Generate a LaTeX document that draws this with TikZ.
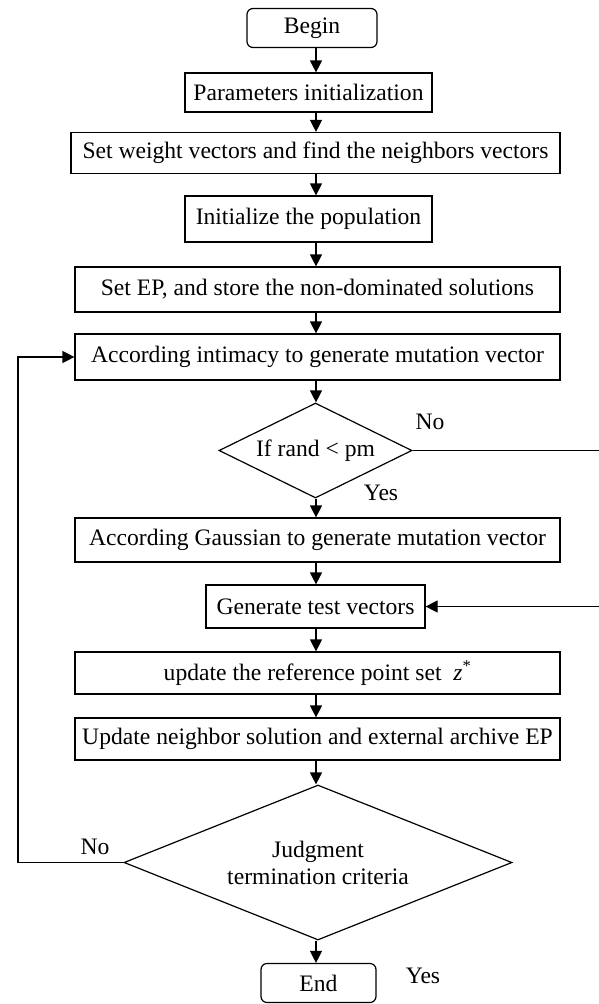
\documentclass[tikz,border=0pt]{standalone}
\usepackage{fontspec}
\setmainfont{Liberation Serif}
\usetikzlibrary{shapes.geometric,arrows.meta}
\begin{document}
\begin{tikzpicture}[x=1pt,y=-1pt,
  every node/.style={font=\fontsize{23.6}{27}\selectfont},
  box/.style={draw,line width=1.2pt,rectangle,inner sep=0pt,align=center},
  rbox/.style={box,rounded corners=6pt},
  dec/.style={draw,line width=1.2pt,diamond,inner sep=0pt,align=center},
  arr/.style={line width=1.2pt,-{Triangle[length=12pt,width=12pt]}},
  ln/.style={line width=1.2pt},
  lbl/.style={inner sep=0pt}]
\useasboundingbox (0,0) rectangle (598,1004);
\coordinate (ax) at (316,0);
\node[rbox,minimum width=130pt,minimum height=39pt] (begin) at (312,28) {Begin};
\node[box,minimum width=247pt,minimum height=39pt] (params) at (308.5,92.5) {Parameters initialization};
\node[box,minimum width=489pt,minimum height=41pt] (weight) at (315.5,153) {Set weight vectors and find the neighbors vectors};
\node[box,minimum width=247pt,minimum height=46pt] (init) at (308.5,219) {Initialize the population};
\node[box,minimum width=485pt,minimum height=45pt] (setep) at (317.5,289.5) {Set EP, and store the non-dominated solutions};
\node[box,minimum width=485pt,minimum height=46pt] (intim) at (317.5,357) {According intimacy to generate mutation vector};
\node[dec,aspect=2,minimum width=193pt,minimum height=95pt] (d1) at (315.5,450.5) {If rand < pm};
\node[box,minimum width=485pt,minimum height=44pt] (gauss) at (317.5,540) {According Gaussian to generate mutation vector};
\node[box,minimum width=219pt,minimum height=43pt] (gen) at (315.5,606.5) {Generate test vectors};
\node[box,minimum width=485pt,minimum height=42pt] (upd) at (317.5,673) {update the reference point set ~\textit{z}\textsuperscript{*}};
\node[box,minimum width=485pt,minimum height=42pt] (nbr) at (317.5,739) {Update neighbor solution and external archive EP};
\node[dec,aspect=2.5,minimum width=388pt,minimum height=155pt] (d2) at (318,862.5) {Judgment\\termination criteria};
\node[rbox,minimum width=115pt,minimum height=39pt] (end) at (318.5,983) {End};

\draw[arr] (begin.south -| ax) -- (params.north -| ax);
\draw[arr] (params.south -| ax) -- (weight.north -| ax);
\draw[arr] (weight.south -| ax) -- (init.north -| ax);
\draw[arr] (init.south -| ax) -- (setep.north -| ax);
\draw[arr] (setep.south -| ax) -- (intim.north -| ax);
\draw[arr] (intim.south -| ax) -- (d1.north -| ax);
\draw[arr] (d1.south -| ax) -- (gauss.north -| ax);
\draw[arr] (gauss.south -| ax) -- (gen.north -| ax);
\draw[arr] (gen.south -| ax) -- (upd.north -| ax);
\draw[arr] (upd.south -| ax) -- (nbr.north -| ax);
\draw[arr] (nbr.south -| ax) -- (d2.north -| ax);
\draw[arr] (d2.south -| ax) -- (end.north -| ax);

\coordinate (r1) at (600,450.5);
\coordinate (r2) at (600,606.5);
\draw[ln] (d1.east) -- (r1) -- (r2);
\draw[arr] (r2) -- (gen.east);
\coordinate (l1) at (18,862.5);
\coordinate (l2) at (18,357);
\draw[arr] (d2.west) -- (l1) -- (l2) -- (intim.west);

\node[lbl] (no1) at (430,422) {No};
\node[lbl] (yes1) at (381,493) {Yes};
\node[lbl] (no2) at (95,847) {No};
\node[lbl] (yes2) at (423,976) {Yes};
\end{tikzpicture}
\end{document}
